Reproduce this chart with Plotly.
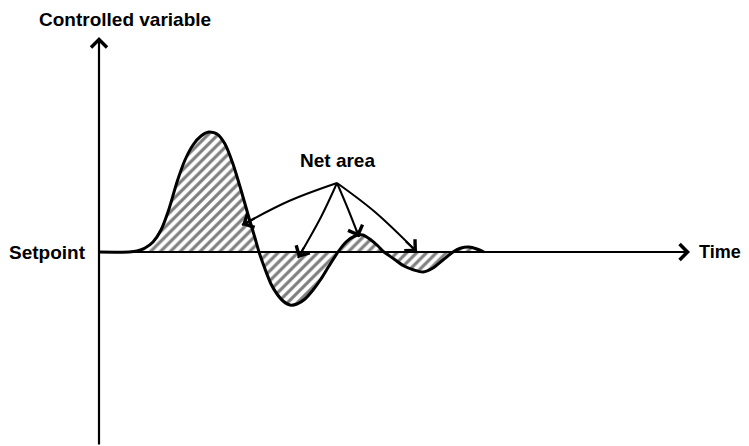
import plotly.graph_objects as go

# Response curve: time (px from the vertical axis) and deviation from setpoint
t = [0, 30, 38, 46, 54, 62, 70, 78, 86, 94, 102, 110, 118, 126, 134, 142, 150, 156, 160,
     166, 172, 178, 184, 191, 198, 206, 214, 222, 230, 239,
     247, 256, 264, 272, 279, 285,
     295, 305, 315, 324, 334, 344, 354,
     362, 370, 378, 385]
dev = [0, 0, 1, 4, 10, 22, 43, 70, 92, 107, 116, 120, 118, 108, 88, 62, 34, 14, 0,
       -17, -32, -42, -49, -53, -52, -47, -38, -27, -14, 0,
       10, 16, 17, 12, 6, 0,
       -7, -14, -18, -20, -16, -8, 0,
       4, 5, 3, 0]

# "Net area" arrows: apex, bend, head (same coordinates as the curve)
label_xy = (238, 92)
arrow_paths = [
    [(238, 69), (190, 51), (143, 27)],
    [(238, 69), (222, 35), (199, -6)],
    [(238, 69), (249, 43), (260, 15)],
    [(238, 69), (276, 40), (318, 0)],
]

time_end = 591
value_top = 215
value_bottom = -194

font = dict(family="Liberation Sans, Arial, sans-serif", size=19, color="black")

fig = go.Figure()

# hatched area and outline
fig.add_trace(go.Scatter(
    x=t, y=dev, mode="lines", line=dict(color="black", width=3, shape="spline", smoothing=0.7),
    fill="tozeroy", fillcolor="white",
    fillpattern=dict(shape="/", fgcolor="black", bgcolor="white", size=7, solidity=0.45),
    hoverinfo="skip"))

# setpoint line (time axis)
fig.add_trace(go.Scatter(x=[0, time_end - 4], y=[0, 0], mode="lines",
                         line=dict(color="black", width=2.2), hoverinfo="skip"))

# arrow shafts
for p in arrow_paths:
    fig.add_trace(go.Scatter(
        x=[q[0] for q in p], y=[q[1] for q in p], mode="lines",
        line=dict(color="black", width=2, shape="spline"), hoverinfo="skip"))

annotations = []
for p in arrow_paths:
    (x1, y1), (x2, y2) = p[-2], p[-1]
    annotations.append(dict(
        x=x2, y=y2, ax=x2 - (x2 - x1) * 0.3, ay=y2 - (y2 - y1) * 0.3,
        xref="x", yref="y", axref="x", ayref="y", text="", showarrow=True,
        arrowhead=4, arrowsize=1.5, arrowwidth=2, arrowcolor="black"))

# axes with arrows
annotations.append(dict(x=0, y=value_top, ax=0, ay=value_bottom, xref="x", yref="y",
                        axref="x", ayref="y", text="", showarrow=True, arrowhead=4,
                        arrowsize=1.4, arrowwidth=2.2, arrowcolor="black"))
annotations.append(dict(x=time_end, y=0, ax=time_end - 60, ay=0, xref="x", yref="y",
                        axref="x", ayref="y", text="", showarrow=True, arrowhead=4,
                        arrowsize=1.4, arrowwidth=2.2, arrowcolor="black"))

annotations += [
    dict(x=label_xy[0], y=label_xy[1], text="<b>Net area</b>", showarrow=False,
         xref="x", yref="y", font=font),
    dict(x=-62, y=233, text="<b>Controlled variable</b>", showarrow=False,
         xref="x", yref="y", xanchor="left", font=font),
    dict(x=-11, y=0, text="<b>Setpoint</b>", showarrow=False,
         xref="x", yref="y", xanchor="right", font=font),
    dict(x=598, y=0, text="<b>Time</b>", showarrow=False,
         xref="x", yref="y", xanchor="left", font=dict(font, size=18)),
]

# page body has an 8px margin, so the figure is 8px smaller and ranges are shifted accordingly
fig.update_layout(
    width=741, height=438, margin=dict(l=0, r=0, t=0, b=0),
    plot_bgcolor="white", paper_bgcolor="white", showlegend=False,
    xaxis=dict(range=[-91, 650], visible=False, fixedrange=True),
    yaxis=dict(range=[-194, 244], visible=False, fixedrange=True),
    annotations=annotations,
)

fig.write_html("out.html")
